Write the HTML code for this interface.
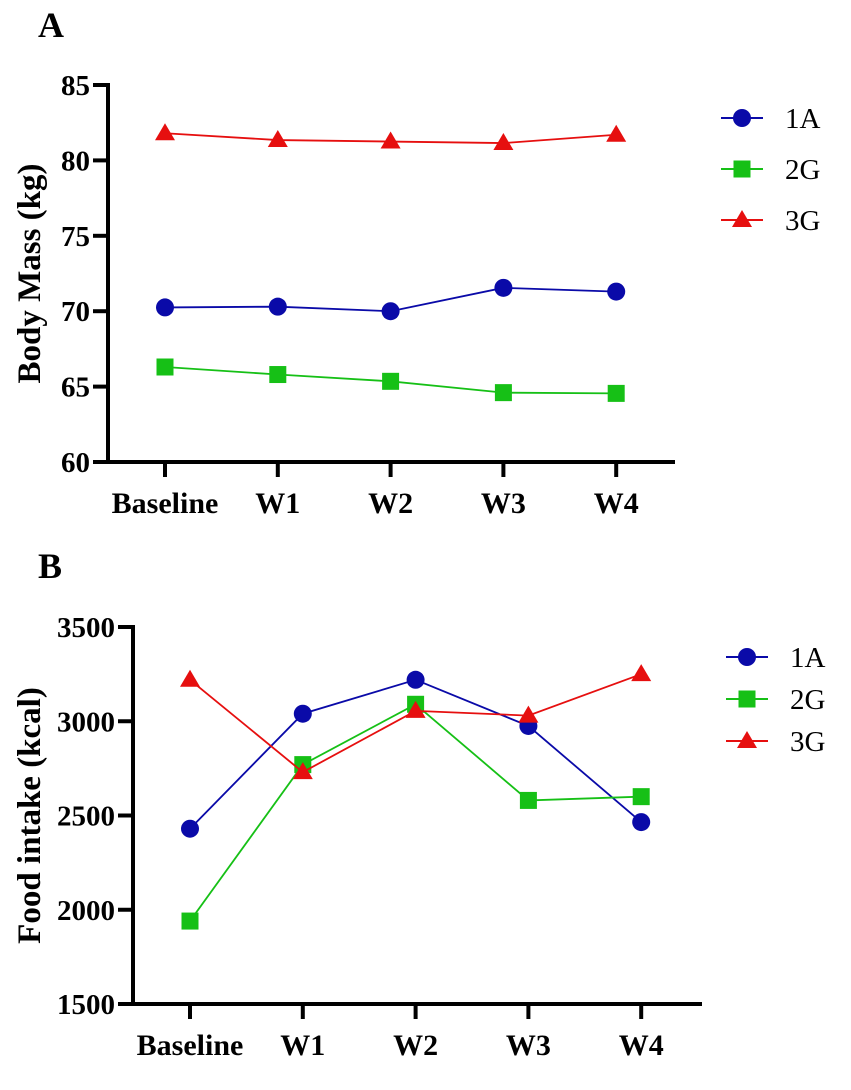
<!DOCTYPE html>
<html><head><meta charset="utf-8"><style>
html,body{margin:0;padding:0;background:#fff;}
svg{display:block;font-family:"Liberation Serif",serif;}
</style></head><body>
<svg id="s" width="851" height="1090" viewBox="0 0 851 1090"></svg>
<script>
const categories = ["Baseline","W1","W2","W3","W4"];
const seriesNames = ["1A","2G","3G"];
const massTicks = [60,65,70,75,80,85];
const mass1A = [70.25,70.3,70.0,71.55,71.3];
const mass2G = [66.3,65.8,65.35,64.6,64.55];
const mass3G = [81.8,81.35,81.25,81.15,81.7];
const foodTicks = [1500,2000,2500,3000,3500];
const food1A = [2430,3040,3220,2975,2465];
const food2G = [1940,2770,3090,2580,2600];
const food3G = [3220,2730,3055,3030,3250];

const NS="http://www.w3.org/2000/svg";
const svg=document.getElementById('s');
function el(t,a,p){const e=document.createElementNS(NS,t);for(const k in a)e.setAttribute(k,a[k]);(p||svg).appendChild(e);return e;}
const colors=["#0a0aa8","#16c016","#e60f0f"];

function marker(g,kind,x,y,c){
  let m;
  if(kind===0) m=el('circle',{cx:x,cy:y,r:9,fill:c},g);
  else if(kind===1) m=el('rect',{x:x-8.5,y:y-8.5,width:17,height:17,fill:c},g);
  else m=el('polygon',{points:`${x},${y-10} ${x+10},${y+7} ${x-10},${y+7}`,fill:c},g);
  return m;
}

function panel(cfg){
  const g=el('g',{});
  
  
  const ymin=cfg.ticks[0], ymax=cfg.ticks[cfg.ticks.length-1];
  const Y=v=>cfg.yBot-(v-ymin)/(ymax-ymin)*(cfg.yBot-cfg.yTop);
  const X=i=>cfg.x0+i*cfg.dx;
  const l=el('text',{x:cfg.letterX,y:cfg.letterY,'font-size':36,'font-weight':'bold'},g);l.textContent=cfg.letter;
  
  
  const ya=el('line',{x1:cfg.ax,y1:cfg.yTop-2,x2:cfg.ax,y2:cfg.yBot+2,stroke:'#000','stroke-width':4},g);
  
  
  const xa=el('line',{x1:cfg.ax-2,y1:cfg.yBot,x2:cfg.xEnd,y2:cfg.yBot,stroke:'#000','stroke-width':4},g);
  
  
  cfg.ticks.forEach(v=>{
    el('line',{x1:cfg.ax-15,y1:Y(v),x2:cfg.ax,y2:Y(v),stroke:'#000','stroke-width':4},g);
    const t=el('text',{x:cfg.ax-18,y:Y(v)+10,'font-size':29,'font-weight':'bold','text-anchor':'end'},g);
    t.textContent=v;
    
    
  });
  categories.forEach((c,i)=>{
    el('line',{x1:X(i),y1:cfg.yBot,x2:X(i),y2:cfg.yBot+15,stroke:'#000','stroke-width':4},g);
    const t=el('text',{x:X(i),y:cfg.yBot+51,'font-size':30,'font-weight':'bold','text-anchor':'middle'},g);
    t.textContent=c;
    
    
  });
  const tt=el('text',{x:0,y:0,'font-size':33,'font-weight':'bold','text-anchor':'middle',transform:`translate(${cfg.titleX},${(cfg.yTop+cfg.yBot)/2}) rotate(-90)`},g);
  tt.textContent=cfg.title;
  
  
  cfg.series.forEach((s,k)=>{
    const pl=el('polyline',{points:s.map((v,i)=>X(i)+','+Y(v)).join(' '),fill:'none',stroke:colors[k],'stroke-width':1.8},g);
    
    
    s.forEach((v,i)=>{
      const m=marker(g,k,X(i),Y(v),colors[k]);
      
      
    });
  });
  seriesNames.forEach((n,k)=>{
    const y=cfg.legY+k*cfg.legDy;
    const lg=el('g',{},g);
    
    
    el('line',{x1:cfg.legX,y1:y,x2:cfg.legX+42,y2:y,stroke:colors[k],'stroke-width':2},lg);
    marker(lg,k,cfg.legX+21,y,colors[k]);
    const t=el('text',{x:cfg.legX+64,y:y+10,'font-size':29},lg);t.textContent=n;
  });
}
panel({name:'panel-a-chart',letter:'A',letterX:38,letterY:37,ticks:massTicks,yTop:85,yBot:462,ax:108,xEnd:675,x0:165,dx:112.8,
  title:'Body Mass (kg)',titleX:40,series:[mass1A,mass2G,mass3G],legX:721,legY:118,legDy:51});
panel({name:'panel-b-chart',letter:'B',letterX:38,letterY:578,ticks:foodTicks,yTop:627,yBot:1004,ax:133,xEnd:702,x0:190,dx:112.8,
  title:'Food intake (kcal)',titleX:40,series:[food1A,food2G,food3G],legX:726,legY:657,legDy:42});
</script>
</body></html>
